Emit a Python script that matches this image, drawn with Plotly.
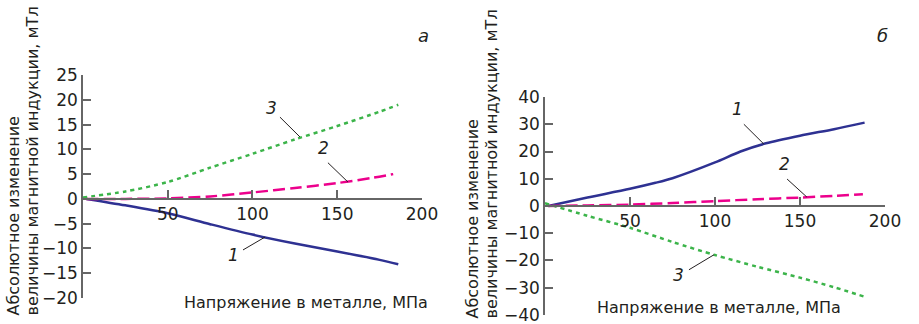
import plotly.graph_objects as go

# ---- data: panel "а" ----
a_x1 = [2, 25, 50, 75, 100, 125, 150, 175, 186]
a_y1 = [0, -1.3, -2.9, -5.1, -7.2, -9.0, -10.6, -12.3, -13.2]
a_x2 = [2, 25, 50, 75, 100, 125, 150, 170, 183]
a_y2 = [0, 0.0, 0.1, 0.5, 1.3, 2.2, 3.2, 4.2, 5.0]
a_x3 = [0, 25, 50, 75, 100, 125, 150, 175, 186]
a_y3 = [0.3, 1.5, 3.4, 6.3, 9.1, 12.0, 14.7, 17.6, 19.0]

# ---- data: panel "б" ----
b_x1 = [2, 25, 50, 65, 75, 100, 115, 130, 150, 170, 188]
b_y1 = [0, 3.1, 6.3, 8.5, 10.2, 16.0, 20.0, 23.0, 25.8, 28.2, 30.6]
b_x2 = [2, 25, 50, 75, 100, 125, 150, 170, 187]
b_y2 = [0, 0.2, 0.5, 1.1, 1.8, 2.5, 3.1, 3.7, 4.3]
b_x3 = [0, 25, 50, 75, 100, 125, 150, 170, 188]
b_y3 = [1.0, -3.6, -8.0, -13.2, -18.0, -22.3, -26.3, -29.8, -33.3]

x_ticks = [50, 100, 150, 200]
a_yticks = [25, 20, 15, 10, 5, 0, -5, -10, -15, -20]
b_yticks = [40, 30, 20, 10, 0, -10, -20, -30, -40]

x_title = "Напряжение в металле, МПа"
y_title_1 = "Абсолютное изменение"
y_title_2 = "величины магнитной индукции, мТл"

BLUE = "#2e3192"
MAGENTA = "#ec008c"
GREEN = "#3cb44a"
AXC = "#666666"
TXT = "#231f20"
FONT = "DejaVu Sans"

fig = go.Figure()

def add_panel(xs, ys, xa, ya):
    styles = [
        dict(color=BLUE, width=2.5),
        dict(color=MAGENTA, width=2.5, dash="12px,5px"),
        dict(color=GREEN, width=2.5, dash="4px,4px"),
    ]
    for (x, y), st in zip(zip(xs, ys), styles):
        fig.add_trace(go.Scatter(x=x, y=y, mode="lines", xaxis=xa, yaxis=ya,
                                 line=dict(shape="spline", smoothing=0.8, **st),
                                 showlegend=False, hoverinfo="skip"))

add_panel([a_x1, a_x2, a_x3], [a_y1, a_y2, a_y3], "x", "y")
add_panel([b_x1, b_x2, b_x3], [b_y1, b_y2, b_y3], "x2", "y2")

a_yr = [-20, 25]
b_yr = [-40, 40]
a_ydom = [0.0802, 0.7685]
b_ydom = [0.0278, 0.7006]

def zero_pos(yr, dom):
    return dom[0] + (0 - yr[0]) / (yr[1] - yr[0]) * (dom[1] - dom[0])

axis_common = dict(showline=True, linecolor=AXC, linewidth=1.5, ticks="inside",
                   ticklen=8, tickwidth=1.5, tickcolor=AXC, showgrid=False,
                   zeroline=False, automargin=False, ticklabeloverflow="allow",
                   tickfont=dict(family=FONT, size=17, color=TXT))

fig.update_layout(
    width=919, height=324,
    margin=dict(l=0, r=0, t=0, b=0, pad=0, autoexpand=False),
    paper_bgcolor="white", plot_bgcolor="white",
    xaxis=dict(domain=[0.0903, 0.4592], range=[0, 200], tickvals=x_ticks,
               anchor="free", position=zero_pos(a_yr, a_ydom), **axis_common),
    yaxis=dict(domain=a_ydom, range=a_yr, tickvals=a_yticks, anchor="x", **axis_common),
    xaxis2=dict(domain=[0.593, 0.963], range=[0, 200], tickvals=x_ticks,
                anchor="free", position=zero_pos(b_yr, b_ydom), **axis_common),
    yaxis2=dict(domain=b_ydom, range=b_yr, tickvals=b_yticks, anchor="x2", **axis_common),
)

lab_font = dict(family=FONT, size=17, color=TXT)

def label(text, x, y, xref, yref):
    fig.add_annotation(text="<i>%s</i>" % text, x=x, y=y, xref=xref, yref=yref,
                       showarrow=False, font=lab_font, xanchor="center", yanchor="middle")

def leader(x0, y0, x1, y1, xref, yref):
    fig.add_shape(type="line", x0=x0, y0=y0, x1=x1, y1=y1, xref=xref, yref=yref,
                  line=dict(color="#231f20", width=1))

# panel а labels
label("3", 111.3, 18.3, "x", "y"); leader(116.2, 16.5, 128, 12.5, "x", "y")
label("2", 141.6, 10.3, "x", "y"); leader(144.5, 7.3, 156.3, 3.4, "x", "y")
label("1", 88.5, -11.3, "x", "y"); leader(94.4, -10.3, 107.4, -7.7, "x", "y")
# panel б labels
label("1", 113.5, 35.5, "x2", "y2"); leader(117, 30, 128.8, 22.7, "x2", "y2")
label("2", 140.6, 15.4, "x2", "y2"); leader(142.4, 9.9, 154, 3.3, "x2", "y2")
label("3", 78.8, -25.3, "x2", "y2"); leader(84.7, -23.4, 99.4, -17.9, "x2", "y2")

def paper_text(text, px, py, font, **kw):
    fig.add_annotation(text=text, x=px/919, y=1-py/324, xref="paper", yref="paper",
                       showarrow=False, font=font, **kw)

# panel letters
letter_font = dict(family=FONT, size=18, color=TXT)
paper_text("<i>а</i>", 423, 35, letter_font, xanchor="center", yanchor="middle")
paper_text("<i>б</i>", 882, 35, letter_font, xanchor="center", yanchor="middle")

# x titles
paper_text(x_title, 306, 302, dict(family=FONT, size=16, color=TXT),
           xanchor="center", yanchor="middle")
paper_text(x_title, 719, 307, dict(family=FONT, size=16, color=TXT),
           xanchor="center", yanchor="middle")

# y titles (two rotated lines each, bottom aligned)
for cx, by in [(13, 318), (472, 321)]:
    paper_text(y_title_1, cx, by, dict(family=FONT, size=16, color=TXT),
               textangle=-90, xanchor="center", yanchor="bottom")
    paper_text(y_title_2, cx + 19, by, dict(family=FONT, size=16, color=TXT),
               textangle=-90, xanchor="center", yanchor="bottom")

fig.write_html("out.html", config={"displayModeBar": False},
               post_script="document.body.style.margin='0';document.body.style.overflow='hidden';")
